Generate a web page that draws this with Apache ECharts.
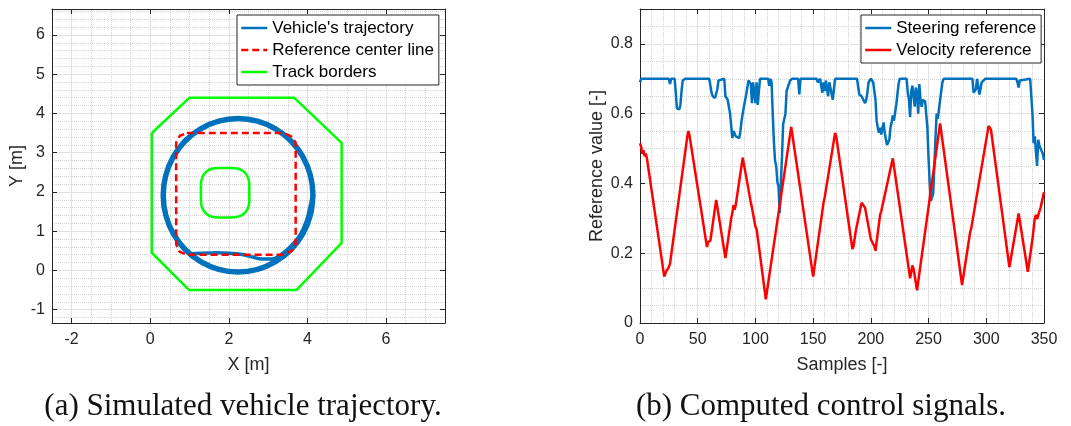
<!DOCTYPE html>
<html><head><meta charset="utf-8">
<script src="https://cdn.jsdelivr.net/npm/echarts@6/dist/echarts.min.js"></script>
<style>html,body{margin:0;padding:0;background:#fff}#c{width:1071px;height:426px}</style>
</head><body><div id="c"></div>
<script>
// ---------- tick labels ----------
const xTicksA = [-2, 0, 2, 4, 6];
const yTicksA = [-1, 0, 1, 2, 3, 4, 5, 6];
const xTicksB = [0, 50, 100, 150, 200, 250, 300, 350];
const yTicksB = [0, 0.2, 0.4, 0.6, 0.8];

// ---------- left plot: track ----------
const trackOuter = [[0.04,3.5],[1.0,4.4],[3.66,4.4],[4.87,3.25],[4.87,0.7],[3.72,-0.5],[0.99,-0.5],[0.04,0.45],[0.04,3.5]];
const trackInner = [[1.29,2.0],[1.29,2.2],[1.33,2.38],[1.42,2.51],[1.56,2.59],[1.75,2.61],[2.05,2.61],[2.24,2.59],[2.39,2.51],[2.48,2.38],[2.52,2.2],[2.52,1.75],[2.48,1.58],[2.39,1.45],[2.24,1.37],[2.05,1.35],[1.75,1.35],[1.56,1.37],[1.42,1.45],[1.33,1.58],[1.29,1.75],[1.29,2.0]];
const centerLine = [[0.93,3.5],[3.39,3.5],[3.58,3.42],[3.7,3.26],[3.7,0.68],[3.6,0.5],[3.39,0.4],[0.93,0.4],[0.75,0.47],[0.66,0.66],[0.66,3.26],[0.75,3.43],[0.93,3.5]];
const trajStart = [[0.97,0.42],[1.3,0.44],[1.7,0.45],[2.0,0.44],[2.3,0.41],[2.6,0.34],[2.85,0.29],[3.1,0.29],[3.39,0.45],[3.62,0.66],[3.82,0.92],[3.97,1.25],[4.06,1.6]];
const trajLap1 = [[4.115,1.915],[4.051,2.415],[3.863,2.880],[3.564,3.280],[3.175,3.586],[2.722,3.779],[2.235,3.845],[1.748,3.779],[1.295,3.586],[0.906,3.280],[0.607,2.880],[0.419,2.415],[0.355,1.915],[0.419,1.415],[0.607,0.950],[0.906,0.550],[1.295,0.244],[1.748,0.051],[2.235,-0.015],[2.722,0.051],[3.175,0.244],[3.564,0.550],[3.863,0.950],[4.051,1.415]];
const trajLap2 = [[4.165,1.915],[4.099,2.428],[3.906,2.905],[3.600,3.315],[3.200,3.630],[2.735,3.828],[2.235,3.895],[1.735,3.828],[1.270,3.630],[0.870,3.315],[0.564,2.905],[0.371,2.428],[0.305,1.915],[0.371,1.402],[0.564,0.925],[0.870,0.515],[1.270,0.200],[1.735,0.002],[2.235,-0.065],[2.735,0.002],[3.200,0.200],[3.600,0.515],[3.906,0.925],[4.099,1.402],[4.165,1.915]];

// ---------- right plot: control signals [sample, value] ----------
const steering = [[0,0.69],[1,0.70],[25,0.70],[26,0.685],[27,0.70],[30,0.70],[31,0.66],[32,0.615],[34,0.612],[35,0.625],[36,0.665],[37,0.695],[38,0.69],[39,0.70],[60,0.70],[61,0.68],[62,0.66],[63,0.65],[65,0.645],[66,0.65],[67,0.67],[68,0.695],[69,0.70],[73,0.70],[74,0.65],[76,0.64],[77,0.62],[78,0.60],[79,0.565],[80,0.53],[81,0.55],[82,0.555],[83,0.535],[84,0.53],[86,0.53],[87,0.55],[88,0.58],[90,0.62],[92,0.655],[94,0.695],[95,0.69],[96,0.685],[97,0.63],[98,0.69],[99,0.695],[100,0.63],[101,0.69],[102,0.625],[103,0.665],[104,0.70],[111,0.70],[112,0.68],[113,0.70],[114,0.69],[115,0.60],[116,0.52],[117,0.465],[118,0.45],[119,0.405],[120,0.39],[121,0.315],[122,0.40],[123,0.475],[124,0.57],[125,0.585],[126,0.60],[127,0.665],[128,0.675],[130,0.695],[132,0.70],[137,0.70],[138,0.655],[139,0.70],[153,0.70],[154,0.69],[156,0.70],[158,0.66],[159,0.69],[160,0.665],[161,0.695],[163,0.65],[164,0.69],[165,0.69],[167,0.64],[168,0.67],[169,0.70],[188,0.70],[190,0.655],[192,0.65],[193,0.645],[195,0.63],[196,0.64],[197,0.66],[198,0.69],[200,0.70],[202,0.69],[204,0.64],[205,0.58],[206,0.56],[207,0.545],[208,0.56],[209,0.54],[210,0.535],[211,0.575],[212,0.545],[213,0.545],[214,0.51],[215,0.51],[216,0.525],[217,0.56],[218,0.575],[219,0.595],[220,0.58],[221,0.585],[222,0.625],[223,0.63],[224,0.685],[225,0.70],[231,0.70],[232,0.66],[233,0.64],[234,0.59],[235,0.665],[236,0.68],[237,0.68],[238,0.62],[239,0.675],[240,0.66],[241,0.60],[242,0.685],[243,0.64],[244,0.62],[245,0.64],[246,0.64],[247,0.635],[248,0.63],[249,0.56],[250,0.47],[251,0.40],[252,0.35],[253,0.345],[254,0.37],[255,0.45],[256,0.53],[257,0.60],[258,0.585],[259,0.59],[260,0.64],[262,0.69],[263,0.70],[288,0.70],[289,0.66],[290,0.665],[291,0.67],[292,0.70],[293,0.68],[294,0.655],[295,0.67],[296,0.69],[299,0.70],[326,0.70],[327,0.69],[328,0.675],[329,0.695],[330,0.70],[338,0.70],[339,0.65],[340,0.60],[341,0.515],[342,0.535],[343,0.535],[344,0.45],[345,0.525],[346,0.51],[347,0.50],[348,0.50],[349,0.485],[350,0.467]];
const velocity = [[0,0.515],[1,0.505],[2,0.485],[3,0.495],[4,0.478],[5,0.486],[6,0.472],[7,0.47],[21,0.133],[22,0.142],[23,0.15],[24,0.155],[25,0.16],[26,0.17],[41,0.535],[42,0.55],[43,0.535],[44,0.53],[58,0.218],[59,0.232],[60,0.228],[61,0.236],[62,0.232],[66,0.353],[74,0.186],[79,0.3],[80,0.315],[81,0.338],[82,0.325],[83,0.34],[89,0.474],[96,0.345],[97,0.33],[100,0.276],[101,0.27],[109,0.068],[131,0.562],[150,0.133],[159,0.345],[160,0.36],[169,0.545],[170,0.535],[184,0.212],[185,0.22],[187,0.265],[188,0.27],[192,0.345],[195,0.33],[196,0.325],[200,0.24],[201,0.245],[203,0.22],[204,0.207],[208,0.31],[209,0.32],[219,0.472],[230,0.22],[231,0.215],[234,0.128],[236,0.165],[237,0.155],[240,0.094],[260,0.572],[279,0.109],[286,0.26],[287,0.272],[288,0.27],[302,0.565],[304,0.555],[320,0.16],[328,0.314],[336,0.147],[340,0.24],[342,0.3],[343,0.31],[344,0.298],[346,0.32],[347,0.33],[350,0.375]];

// ---------- styling ----------
const FONT = '"Liberation Sans", Arial, sans-serif';
const AX = '#262626';
const MAJOR = '#e1e1e1', MINOR = '#d4d4d4';
const BLUE = '#0072BD', RED = '#FF0000', GREEN = '#00FF00';

function minors(lo, hi, step, majors) {
  const out = [];
  const n0 = Math.ceil(lo / step - 1e-9), n1 = Math.floor(hi / step + 1e-9);
  for (let n = n0; n <= n1; n++) {
    const v = +(n * step).toFixed(6);
    if (v <= lo + 1e-9 || v >= hi - 1e-9) continue;
    if (majors.some(m => Math.abs(m - v) < 1e-9)) continue;
    out.push(v);
  }
  return out;
}
function gridSeries(xi, yi, xr, yr, xMaj, yMaj, xStep, yStep) {
  const d = [];
  const maj = { color: MAJOR, width: 1, type: 'solid' };
  const mnr = { color: MINOR, width: 1, type: [1, 1] };
  minors(xr[0], xr[1], xStep, xMaj).forEach(v => d.push({ xAxis: v, lineStyle: mnr }));
  minors(yr[0], yr[1], yStep, yMaj).forEach(v => d.push({ yAxis: v, lineStyle: mnr }));
  xMaj.filter(v => v > xr[0] && v < xr[1]).forEach(v => d.push({ xAxis: v, lineStyle: maj }));
  yMaj.filter(v => v > yr[0] && v < yr[1]).forEach(v => d.push({ yAxis: v, lineStyle: maj }));
  return { type: 'line', xAxisIndex: xi, yAxisIndex: yi, data: [], z: 0, silent: true,
    markLine: { z: 0, zlevel: 0, silent: true, symbol: ['none', 'none'], label: { show: false }, animation: false, data: d } };
}
function axis(gridIndex, position, range, ticks, showLabels, name, nameGap, labelMargin) {
  return {
    type: 'value', gridIndex, position, min: range[0], max: range[1],
    axisLine: { show: true, onZero: false, lineStyle: { color: AX, width: 1 } },
    axisTick: { show: true, inside: true, length: 5, customValues: ticks, lineStyle: { color: AX } },
    axisLabel: { show: showLabels, customValues: ticks, color: AX, fontFamily: FONT, fontSize: 16, margin: labelMargin || 8 },
    splitLine: { show: false },
    name: name || '', nameLocation: 'middle', nameGap: nameGap || 0,
    nameTextStyle: { color: AX, fontFamily: FONT, fontSize: 18 }
  };
}
function legendBox(left, names) {
  return { left, top: 15, orient: 'vertical', selectedMode: false,
    data: names, itemWidth: 26, itemHeight: 14, itemGap: 2, padding: [3, 5, 3, 3],
    itemStyle: { opacity: 0 }, lineStyle: { width: 2.5 },
    backgroundColor: '#fff', borderColor: AX, borderWidth: 1, borderRadius: 0,
    textStyle: { fontFamily: FONT, fontSize: 17, color: '#000', lineHeight: 20 } };
}

const xRangeA = [-2.5, 7.5], yRangeA = [-1.34, 6.66];
const xRangeB = [0, 350], yRangeB = [0, 0.9];

const option = {
  animation: false,
  backgroundColor: '#fff',
  grid: [
    { left: 52, top: 9, width: 393, height: 314 },
    { left: 640, top: 9, width: 404, height: 314 }
  ],
  xAxis: [
    axis(0, 'bottom', xRangeA, xTicksA, true, 'X [m]', 33, 9),
    axis(0, 'top', xRangeA, xTicksA, false),
    axis(1, 'bottom', xRangeB, xTicksB, true, 'Samples [-]', 33, 9),
    axis(1, 'top', xRangeB, xTicksB, false)
  ],
  yAxis: [
    axis(0, 'left', yRangeA, yTicksA, true, 'Y [m]', 26, 7),
    axis(0, 'right', yRangeA, yTicksA, false),
    axis(1, 'left', yRangeB, yTicksB, true, 'Reference value [-]', 34, 7),
    axis(1, 'right', yRangeB, yTicksB, false)
  ],
  legend: [
    legendBox(237, ["Vehicle's trajectory", 'Reference center line', 'Track borders']),
    legendBox(861, ['Steering reference', 'Velocity reference'])
  ],
  title: [
    { text: '(a) Simulated vehicle trajectory.', left: 238, top: 386, textAlign: 'center',
      textStyle: { fontFamily: '"Liberation Serif", serif', fontSize: 31, fontWeight: 'normal', color: '#111' } },
    { text: '(b) Computed control signals.', left: 816, top: 386, textAlign: 'center',
      textStyle: { fontFamily: '"Liberation Serif", serif', fontSize: 31, fontWeight: 'normal', color: '#111' } }
  ],
  series: [
    gridSeries(0, 0, xRangeA, yRangeA, xTicksA, yTicksA, 0.5, 0.2),
    gridSeries(2, 2, xRangeB, yRangeB, xTicksB, yTicksB, 10, 0.05),
    { name: "Vehicle's trajectory", type: 'line', xAxisIndex: 0, yAxisIndex: 0, z: 3,
      data: trajStart.concat(trajLap1, trajLap2), smooth: 0.35, symbol: 'none',
      lineStyle: { color: BLUE, width: 3.5 }, itemStyle: { color: BLUE } },
    { name: 'Reference center line', type: 'line', xAxisIndex: 0, yAxisIndex: 0, z: 4,
      data: centerLine, symbol: 'none',
      lineStyle: { color: RED, width: 2.5, type: [7, 4] }, itemStyle: { color: RED } },
    { name: 'Track borders', type: 'line', xAxisIndex: 0, yAxisIndex: 0, z: 4,
      data: trackOuter, symbol: 'none',
      lineStyle: { color: GREEN, width: 2.5 }, itemStyle: { color: GREEN } },
    { name: 'Track borders', type: 'line', xAxisIndex: 0, yAxisIndex: 0, z: 4,
      data: trackInner, symbol: 'none', smooth: 0.3,
      lineStyle: { color: GREEN, width: 2.5 }, itemStyle: { color: GREEN } },
    { name: 'Steering reference', type: 'line', xAxisIndex: 2, yAxisIndex: 2, z: 3,
      data: steering, symbol: 'none',
      lineStyle: { color: BLUE, width: 2.5 }, itemStyle: { color: BLUE } },
    { name: 'Velocity reference', type: 'line', xAxisIndex: 2, yAxisIndex: 2, z: 3,
      data: velocity, symbol: 'none',
      lineStyle: { color: RED, width: 2.5 }, itemStyle: { color: RED } }
  ]
};
const chart = echarts.init(document.getElementById('c'), null, { renderer: 'canvas' });
chart.setOption(option);
</script>
</body></html>
